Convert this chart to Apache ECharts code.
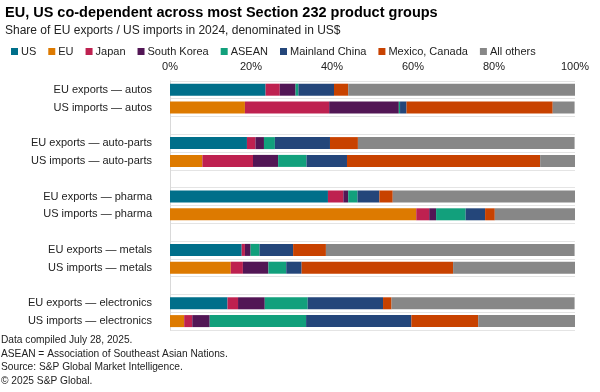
<!DOCTYPE html>
<html><head><meta charset="utf-8">
<script src="https://cdn.jsdelivr.net/npm/echarts@6/dist/echarts.min.js"></script>
<style>html,body{margin:0;padding:0;background:#fff}#c{width:600px;height:392px}</style>
</head><body><div id="c"></div>
<script>
// Categories (blank rows separate product groups)
var categories = ['EU exports — autos','US imports — autos',' ',
  'EU exports — auto-parts','US imports — auto-parts','  ',
  'EU exports — pharma','US imports — pharma','   ',
  'EU exports — metals','US imports — metals','    ',
  'EU exports — electronics','US imports — electronics'];
var seriesNames = ['US','EU','Japan','South Korea','ASEAN','Mainland China','Mexico, Canada','All others'];
var xTicks = [0,20,40,60,80,100];
// Shares (%) per partner, in category order
var US      = [23.6, 0, null, 19.0, 0, null, 39.0, 0, null, 17.7, 0, null, 14.2, 0];
var EU      = [0, 18.5, null, 0, 8.0, null, 0, 60.8, null, 0, 15.0, null, 0, 3.5];
var Japan   = [3.5, 20.8, null, 2.1, 12.5, null, 3.8, 3.2, null, 0.8, 3.0, null, 2.6, 2.0];
var SKorea  = [3.9, 17.2, null, 2.1, 6.2, null, 1.2, 1.7, null, 1.4, 6.3, null, 6.6, 4.3];
var ASEAN   = [0.7, 0.3, null, 2.7, 7.0, null, 2.3, 7.3, null, 2.2, 4.4, null, 10.6, 23.8];
var China   = [8.8, 1.6, null, 13.6, 10.0, null, 5.4, 4.8, null, 8.3, 3.8, null, 18.6, 26.0];
var MexCan  = [3.5, 36.1, null, 6.9, 47.7, null, 3.3, 2.4, null, 8.1, 37.4, null, 2.1, 16.5];
var Others  = [56.1, 5.4, null, 53.5, 8.6, null, 45.0, 19.8, null, 61.4, 30.1, null, 45.2, 24.0];
var values = [US, EU, Japan, SKorea, ASEAN, China, MexCan, Others];
var colors = ['#006f8a','#dd7a00','#be2150','#521655','#12a07c','#24467a','#c84200','#878787'];

var chart = echarts.init(document.getElementById('c'), null, {renderer:'canvas'});
var FONT = 'Liberation Sans, Arial, sans-serif';
var series = seriesNames.map(function(n,i){
  return {name:n, type:'bar', stack:'s', data:values[i], barWidth:12,
    itemStyle:{color:colors[i]}, emphasis:{disabled:true}, animation:false};
});
var foot = ['Data compiled July 28, 2025.','ASEAN = Association of Southeast Asian Nations.',
  'Source: S&P Global Market Intelligence.','© 2025 S&P Global.'];
chart.setOption({
  animation:false,
  textStyle:{fontFamily:FONT},
  color:colors,
  title:[{text:'EU, US co-dependent across most Section 232 product groups', left:0, top:0,
    textStyle:{fontFamily:FONT, fontSize:14.5, fontWeight:'bold', color:'#000'}},
    {text:'Share of EU exports / US imports in 2024, denominated in US$', left:0, top:20,
    textStyle:{fontFamily:FONT, fontSize:12, fontWeight:'normal', color:'#222'}}],
  legend:{left:6, top:41, itemWidth:7, itemHeight:7, itemGap:12, icon:'rect',
    textStyle:{fontFamily:FONT, fontSize:11, color:'#222', padding:[0,0,0,-2]}, data:seriesNames},
  grid:{left:170, right:25, top:80.8, bottom:62, containLabel:false},
  xAxis:{type:'value', position:'top', min:0, max:100, interval:20,
    axisLine:{show:false}, axisTick:{show:false}, splitLine:{show:false},
    axisLabel:{formatter:'{value}%', fontFamily:FONT, fontSize:11, color:'#222', margin:8}},
  yAxis:{type:'category', inverse:true, data:categories,
    axisLine:{show:true, lineStyle:{color:'#d9d9d9'}}, axisTick:{show:false},
    splitLine:{show:true, lineStyle:{color:'#e4e4e4', width:1}},
    axisLabel:{fontFamily:FONT, fontSize:11, color:'#222', margin:18}},
  graphic: foot.map(function(t,i){
    return {type:'text', left:1, top:335+i*13.8, style:{text:t, font:'10.2px '+FONT, fill:'#222'}};
  }),
  series:series
});
</script></body></html>
